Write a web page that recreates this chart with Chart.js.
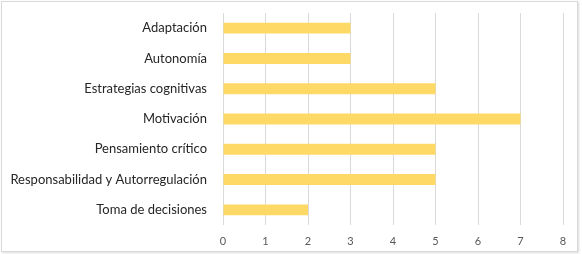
<!DOCTYPE html>
<html>
<head>
<meta charset="utf-8">
<script src="https://cdn.jsdelivr.net/npm/chart.js@4"></script>
<style>
  html, body { margin: 0; padding: 0; background: #fff; }
  #wrap { position: relative; width: 582px; height: 254px; }
  #frame {
    position: absolute; left: 1px; top: 1px; width: 575px; height: 249px;
    border: 1px solid #d9d9d9; box-shadow: 1px 1px 2px rgba(0,0,0,0.15);
  }
  canvas { position: absolute; left: 0; top: 0; }
</style>
</head>
<body>
<div id="wrap">
  <div id="frame"></div>
  <canvas id="chart" width="582" height="254"></canvas>
</div>
<script>
// Categories, top to bottom
const categories = [
  "Adaptación",
  "Autonomía",
  "Estrategias cognitivas",
  "Motivación",
  "Pensamiento crítico",
  "Responsabilidad y Autorregulación",
  "Toma de decisiones"
];
const values = [3, 3, 5, 7, 5, 5, 2];
const xTicks = [0, 1, 2, 3, 4, 5, 6, 7, 8];

const chartElem = document.getElementById("chart");
new Chart(chartElem, {
  type: "bar",
  data: {
    labels: categories,
    datasets: [{
      data: values,
      backgroundColor: "#ffd966",
      barPercentage: 0.72,
      categoryPercentage: 0.5
    }]
  },
  options: {
    indexAxis: "y",
    responsive: false,
    animation: false,
    layout: { padding: { top: 13, right: 19, left: 0, bottom: 0 } },
    plugins: { legend: { display: false }, tooltip: { enabled: false } },
    scales: {
      x: {
        min: xTicks[0],
        max: xTicks[xTicks.length - 1],
        afterBuildTicks: s => { s.ticks = xTicks.map(v => ({ value: v })); },
        afterFit: s => { s.height = 254 - 225; s.paddingLeft = 0; s.paddingRight = 0; },
        border: { display: false },
        grid: { color: "#d9d9d9", lineWidth: 1, drawTicks: false },
        ticks: { padding: 10, color: "#595959", font: { family: "Lato", size: 11 } }
      },
      y: {
        // label padding would otherwise push the plot area down
        afterFit: s => { s.width = 223; s.paddingTop = 0; s.paddingBottom = 0; },
        border: { display: false },
        grid: { display: false, drawTicks: false },
        ticks: { padding: 16, color: "#262626", font: { family: "Lato", size: 13 } }
      }
    }
  }
});
</script>
</body>
</html>
